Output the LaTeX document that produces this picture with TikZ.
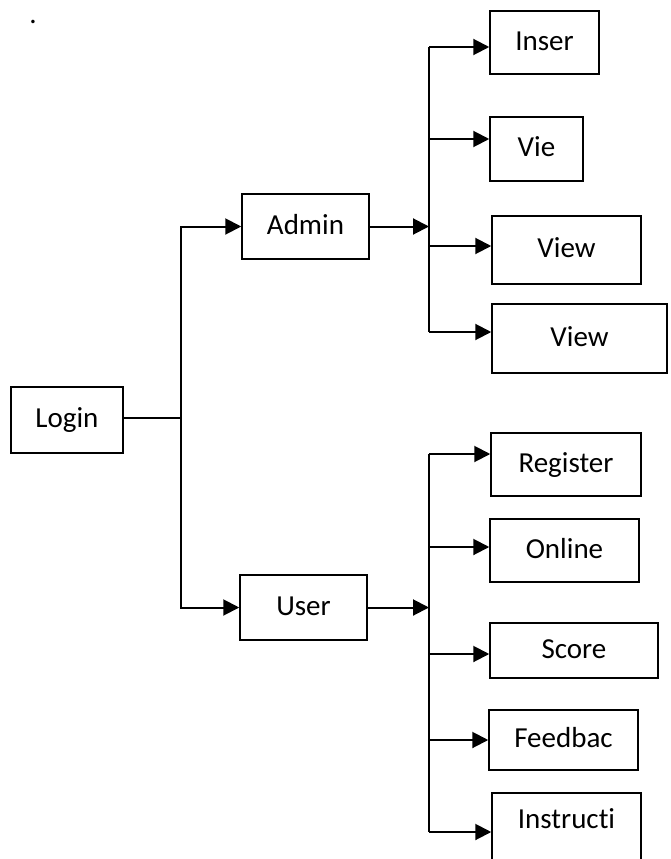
\documentclass[tikz,border=0pt]{standalone}
\usepackage{fontspec}
\setmainfont{Carlito}[Ligatures=CommonOff]
\usetikzlibrary{arrows.meta,calc}
\begin{document}
\begin{tikzpicture}[x=1pt,y=-1pt,
  txt/.style={inner sep=0pt, font=\fontsize{29}{34}\selectfont, text height=21.5pt, text depth=6pt},
  box/.style={txt, draw, line width=1.5pt},
  line/.style={line width=2pt},
  arr/.style={line width=2pt, -{Triangle[length=16pt,width=16pt]}}]
\useasboundingbox (0,0) rectangle (670,859);

\node[txt] (dot) at (33,16) {.};

\node[box, minimum width=112pt, minimum height=66pt] (login) at (67,420) {Login};
\node[box, minimum width=127pt, minimum height=65pt] (admin) at (305.5,226.5) {Admin};
\node[box, minimum width=127pt, minimum height=65pt] (user) at (303.5,607.5) {User};

\node[box, minimum width=109pt, minimum height=63pt] (inser) at (544.5,42.5) {Inser};
\node[box, minimum width=93pt, minimum height=64pt] (vie) at (536.5,149) {Vie};
\node[box, minimum width=149pt, minimum height=68pt] (view1) at (566.5,250) {View};
\node[box, minimum width=175pt, minimum height=69pt] (view2) at (579.5,338.5) {View};

\node[box, minimum width=150pt, minimum height=63pt] (register) at (566,464.5) {Register};
\node[box, minimum width=149pt, minimum height=63pt] (online) at (564.5,550.5) {Online};
\node[box, minimum width=168pt, minimum height=55pt] (score) at (574,650.5) {Score};
\node[box, minimum width=149pt, minimum height=60pt] (feedbac) at (563.5,740) {Feedbac};
\node[box, minimum width=149pt, text height=36pt, text depth=44pt, anchor=north] (instructi) at (566.5,792) {Instructi};

% Login to Admin / User
\coordinate (j1) at (181,418);
\draw[line] (login.east |- j1) -- (j1);
\draw[arr] (j1) |- (admin.west);
\draw[arr] (j1) |- (user.west);

% Admin branch
\coordinate (ja1) at (429,47);
\coordinate (ja2) at (429,139);
\coordinate (ja3) at (429,246);
\coordinate (ja4) at (429,332);
\draw[line] (ja1) -- (ja4);
\draw[arr] (admin.east) -- (admin.east -| ja1);
\draw[arr] (ja1) -- (ja1 -| inser.west);
\draw[arr] (ja2) -- (ja2 -| vie.west);
\draw[arr] (ja3) -- (ja3 -| view1.west);
\draw[arr] (ja4) -- (ja4 -| view2.west);

% User branch
\coordinate (ju1) at (429,454);
\coordinate (ju2) at (429,547);
\coordinate (ju3) at (429,654);
\coordinate (ju4) at (429,740);
\coordinate (ju5) at (429,832);
\draw[line] (ju1) -- (ju5);
\draw[arr] (user.east) -- (user.east -| ju1);
\draw[arr] (ju1) -- (ju1 -| register.west);
\draw[arr] (ju2) -- (ju2 -| online.west);
\draw[arr] (ju3) -- (ju3 -| score.west);
\draw[arr] (ju4) -- (ju4 -| feedbac.west);
\draw[arr] (ju5) -- (ju5 -| instructi.west);
\end{tikzpicture}
\end{document}
